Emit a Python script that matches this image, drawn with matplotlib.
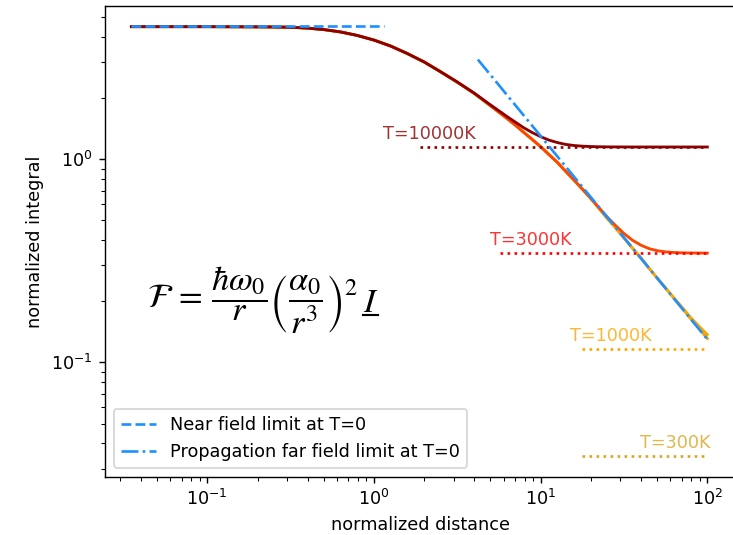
import matplotlib
matplotlib.use("Agg")
import matplotlib.pyplot as plt
from matplotlib.lines import Line2D
from matplotlib.transforms import IdentityTransform

# ---- data ----
distance = [0.035, 0.1, 0.2, 0.25, 0.32, 0.4, 0.5, 0.63, 0.79, 1.0, 1.26, 1.58, 2.0, 2.5, 3.16,
            4.0, 5.0, 6.3, 7.08, 7.9, 8.9, 10, 11.2, 12.6, 14.1, 15.8, 17.8, 20, 22.4, 25,
            28.2, 31.6, 35.5, 40, 44.7, 50, 56.2, 63, 70.8, 79, 89, 100]
integral_300K = [4.50, 4.50, 4.49, 4.485, 4.468, 4.427, 4.354, 4.239, 4.077, 3.865, 3.611, 3.322, 3.015, 2.703, 2.398,
                 2.108, 1.836, 1.586, 1.469, 1.359, 1.252, 1.154, 1.056, 0.9655, 0.874, 0.792, 0.712, 0.640, 0.573, 0.5133,
                 0.4585, 0.4098, 0.3658, 0.3264, 0.2912, 0.2599, 0.2318, 0.2069, 0.1846, 0.1647, 0.1470, 0.1311]
integral_1000K = [4.50, 4.50, 4.49, 4.485, 4.468, 4.427, 4.354, 4.239, 4.077, 3.865, 3.611, 3.322, 3.015, 2.703, 2.398,
                  2.108, 1.836, 1.586, 1.469, 1.359, 1.252, 1.154, 1.056, 0.9655, 0.874, 0.792, 0.712, 0.640, 0.573, 0.5133,
                  0.4585, 0.4098, 0.3658, 0.3264, 0.2912, 0.2602, 0.2324, 0.2080, 0.1862, 0.1672, 0.1510, 0.137]
integral_3000K = [4.50, 4.50, 4.49, 4.485, 4.468, 4.427, 4.354, 4.239, 4.077, 3.865, 3.611, 3.322, 3.015, 2.703, 2.398,
                  2.108, 1.836, 1.586, 1.469, 1.359, 1.252, 1.154, 1.056, 0.9655, 0.874, 0.7929, 0.7135, 0.6426, 0.5775, 0.5209,
                  0.4714, 0.4311, 0.3998, 0.3775, 0.3632, 0.3548, 0.3501, 0.3476, 0.3463, 0.3457, 0.3453, 0.3452]
integral_10000K = [4.50, 4.50, 4.49, 4.485, 4.468, 4.427, 4.354, 4.239, 4.077, 3.865, 3.611, 3.322, 3.015, 2.703, 2.403,
                   2.117, 1.854, 1.622, 1.5206, 1.4317, 1.3542, 1.2931, 1.2438, 1.209, 1.1843, 1.1696, 1.1606, 1.1556, 1.1529, 1.1515,
                   1.1508, 1.1504, 1.150, 1.150, 1.150, 1.150, 1.150, 1.150, 1.150, 1.150, 1.150, 1.150]

temperatures = ["T=300K", "T=1000K", "T=3000K", "T=10000K"]
plateau_level = [0.0346, 0.116, 0.345, 1.15]
plateau_start = [17.6, 17.6, 5.7, 1.9]
plateau_end = [100, 100, 100, 100]
label_x = [39.4, 15.0, 5.0, 1.14]

near_x = [0.035, 1.15]
near_y = [4.55, 4.55]
far_x = [4.2, 100]
far_y = [3.1, 0.13]

curve_colors = ["goldenrod", "orange", "orangered", "darkred"]
level_colors = ["goldenrod", "orange", "red", "darkred"]

DPI = 127
fig = plt.figure(figsize=(733 / DPI, 535 / DPI), dpi=DPI)
ax = fig.add_axes([105 / 733, 1 - 476.7 / 535, 631 / 733, 470.7 / 535])

curves = [integral_300K, integral_1000K, integral_3000K, integral_10000K]
for ys, c in zip(curves, curve_colors):
    ax.plot(distance, ys, color=c, lw=1.6)

for lvl, x0, x1, c, lx, lab in zip(plateau_level, plateau_start, plateau_end,
                                     level_colors, label_x, temperatures):
    ax.plot([x0, x1], [lvl, lvl], ls=":", color=c, lw=1.5)
    ax.text(lx, lvl * 1.1, lab, color=c, fontsize=10, alpha=0.8,
            ha="left", va="baseline")

ax.plot(near_x, near_y, ls="--", color="dodgerblue", lw=1.5,
        label="Near field limit at T=0")
ax.plot(far_x, far_y, ls="-.", color="dodgerblue", lw=1.5,
        label="Propagation far field limit at T=0")

ax.set_xscale("log")
ax.set_yscale("log")
ax.set_xlim(10 ** -1.614, 10 ** 2.172)
ax.set_ylim(10 ** -1.563, 10 ** 0.755)
ax.set_xlabel("normalized distance", fontsize=10)
ax.set_ylabel("normalized integral", fontsize=10)
ax.legend(loc="lower left", fontsize=10)

# formula (underlined I drawn as separate text + rule)
eq_main = r"$\mathcal{F}\,=\,\dfrac{\hbar\omega_0}{r}\left(\dfrac{\alpha_0}{r^3}\right)^2$"
eq = ax.text(0.066, 0.375, eq_main, transform=ax.transAxes, fontsize=19.5,
             ha="left", va="center", math_fontfamily="stix")
fig.canvas.draw()
rend = fig.canvas.get_renderer()
bb = eq.get_window_extent(rend)
i_txt = ax.text(bb.x1 + 5, bb.y0 + 0.34 * bb.height, r"$I$", transform=IdentityTransform(),
                fontsize=19.5, ha="left", va="baseline", math_fontfamily="stix")
fig.canvas.draw()
ib = i_txt.get_window_extent(rend)
uy = bb.y0 + 0.34 * bb.height - 3
fig.add_artist(Line2D([ib.x0, ib.x1], [uy, uy], transform=IdentityTransform(),
                      color="black", lw=1.2))

fig.savefig("out.png", dpi=DPI)
